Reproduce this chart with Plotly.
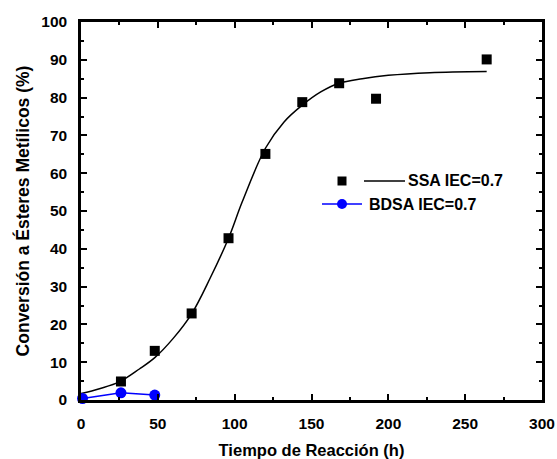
import plotly.graph_objects as go

# SSA IEC=0.7 experimental data
ssa_t = [26, 48, 72, 96, 120, 144, 168, 192, 264]
ssa_v = [4.9, 13.0, 22.9, 42.8, 65.1, 78.8, 83.8, 79.7, 90.1]

# SSA fit curve
fit_t = [0, 12, 25, 38, 48, 60, 72, 84, 96, 105, 120, 132, 144, 156, 168, 183, 200, 227, 264]
fit_v = [1.7, 3.0, 4.8, 8.2, 11.2, 16.3, 22.8, 32.2, 42.8, 52.5, 66.6, 73.5, 78.0, 81.5, 83.8, 85.0, 85.9, 86.6, 86.9]

# BDSA IEC=0.7
bdsa_t = [1, 26, 48]
bdsa_v = [0.4, 1.9, 1.3]

x_ticks = [0, 50, 100, 150, 200, 250, 300]
y_ticks = [0, 10, 20, 30, 40, 50, 60, 70, 80, 90, 100]

FONT = "Liberation Sans, Arial, sans-serif"
TICK_SIZE = 15.5
TITLE_SIZE = 16.5
LEG_SIZE = 16

fig = go.Figure()
fig.add_trace(go.Scatter(x=fit_t, y=fit_v, mode="lines", line=dict(color="black", width=1.5, shape="spline"),
                         showlegend=False, cliponaxis=False))
fig.add_trace(go.Scatter(x=ssa_t, y=ssa_v, mode="markers",
                         marker=dict(symbol="square", size=10, color="black"),
                         showlegend=False, cliponaxis=False))
fig.add_trace(go.Scatter(x=bdsa_t, y=bdsa_v, mode="lines+markers",
                         line=dict(color="blue", width=1.5),
                         marker=dict(symbol="circle", size=11, color="blue"),
                         showlegend=False, cliponaxis=False))

W, H = 557, 459
L, R, T, B = 81, 15, 22, 59
pw, ph = W - L - R, H - T - B

def px(x):
    return (x - L) / pw

def py(y):
    return (H - B - y) / ph

shapes = []
# legend row 1
shapes.append(dict(type="rect", xref="paper", yref="paper",
                   x0=px(337.5), x1=px(346.5), y0=py(185.5), y1=py(176.5),
                   fillcolor="black", line=dict(width=0)))
shapes.append(dict(type="line", xref="paper", yref="paper",
                   x0=px(364), x1=px(405), y0=py(181), y1=py(181),
                   line=dict(color="black", width=1.5)))
# legend row 2
shapes.append(dict(type="line", xref="paper", yref="paper",
                   x0=px(322), x1=px(362), y0=py(204), y1=py(204),
                   line=dict(color="blue", width=1.5)))
shapes.append(dict(type="circle", xref="paper", yref="paper",
                   x0=px(337), x1=px(347), y0=py(209), y1=py(199),
                   fillcolor="blue", line=dict(width=0)))

annotations = [
    dict(text="<b>SSA IEC=0.7</b>", xref="paper", yref="paper", x=px(406), y=py(181),
         xanchor="left", yanchor="middle", showarrow=False, font=dict(family=FONT, size=LEG_SIZE, color="black")),
    dict(text="<b>BDSA IEC=0.7</b>", xref="paper", yref="paper", x=px(367), y=py(204),
         xanchor="left", yanchor="middle", showarrow=False, font=dict(family=FONT, size=LEG_SIZE, color="black")),
]

axis_common = dict(
    showline=True, linecolor="black", linewidth=2.5, mirror="ticks",
    ticks="inside", ticklen=6, tickwidth=2, tickcolor="black",
    showgrid=False, zeroline=False, automargin=False,
    tickfont=dict(family=FONT, size=TICK_SIZE, color="black"),
)

fig.update_layout(
    width=W, height=H,
    margin=dict(l=L, r=R, t=T, b=B),
    paper_bgcolor="white", plot_bgcolor="white",
    font=dict(family=FONT, size=13, color="black"),
    showlegend=False,
    shapes=shapes,
    annotations=annotations,
    xaxis=dict(range=[0, 300], tickvals=x_ticks, ticktext=[f"<b>{v}</b>" for v in x_ticks],
               ticklabelstandoff=8,
               minor=dict(ticks="inside", ticklen=3, tickwidth=2, tickcolor="black", dtick=25),
               title=dict(text="<b>Tiempo de Reacción (h)</b>", font=dict(family=FONT, size=TITLE_SIZE), standoff=15),
               **axis_common),
    yaxis=dict(range=[0, 100], tickvals=y_ticks, ticktext=[f"<b>{v}</b>" for v in y_ticks],
               ticklabelstandoff=8,
               minor=dict(ticks="inside", ticklen=3, tickwidth=2, tickcolor="black", dtick=5),
               title=dict(text="<b>Conversión a Ésteres Metílicos (%)</b>", font=dict(family=FONT, size=17.5), standoff=8),
               **axis_common),
)

fig.write_html("out.html")
